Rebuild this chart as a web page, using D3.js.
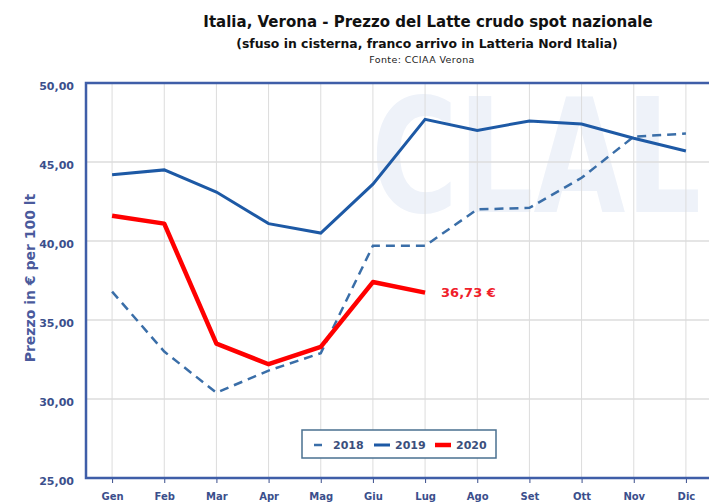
<!DOCTYPE html>
<html lang="it">
<head>
  <meta charset="UTF-8">
  <title>Prezzo del Latte crudo spot</title>
  <style>
    body { margin: 0; background: #fff; }
    text { font-family: "DejaVu Sans", Verdana, sans-serif; }
  </style>
</head>
<body>
  <svg id="svg" width="709" height="502"></svg>

  <script src="https://d3js.org/d3.v7.min.js"></script>
  <script>
    // data
    const months = ['Gen', 'Feb', 'Mar', 'Apr', 'Mag', 'Giu', 'Lug', 'Ago', 'Set', 'Ott', 'Nov', 'Dic']
    const prices2018 = [36.8, 33.0, 30.4, 31.8, 32.9, 39.7, 39.7, 42.0, 42.1, 44.0, 46.6, 46.8]
    const prices2019 = [44.2, 44.5, 43.1, 41.1, 40.5, 43.6, 47.7, 47.0, 47.6, 47.4, 46.5, 45.7]
    const prices2020 = [41.6, 41.1, 33.5, 32.2, 33.3, 37.4, 36.73]
    const yTicks = [25, 30, 35, 40, 45, 50]
    const lastLabel = '36,73 €'

    const margin = { top: 83, right: -3, bottom: 24, left: 86 }
    const width = 709 - margin.left - margin.right
    const height = 502 - margin.top - margin.bottom

    const svg = d3.select('#svg')
    const axisColor = '#3b4f8c'

    // titles
    svg.append('text').attr('x', 428).attr('y', 27).attr('text-anchor', 'middle')
      .attr('font-size', 15).attr('font-weight', 'bold').attr('fill', '#111')
      .text('Italia, Verona - Prezzo del Latte crudo spot nazionale')
    svg.append('text').attr('x', 427).attr('y', 48).attr('text-anchor', 'middle')
      .attr('font-size', 12.4).attr('font-weight', 'bold').attr('fill', '#111')
      .text('(sfuso in cisterna, franco arrivo in Latteria Nord Italia)')
    svg.append('text').attr('x', 422).attr('y', 63).attr('text-anchor', 'middle')
      .attr('font-size', 9.5).attr('letter-spacing', 0.4).attr('fill', '#222')
      .text('Fonte: CCIAA Verona')

    const g = svg.append('g').attr('transform', `translate(${margin.left}, ${margin.top})`)

    // faint watermark
    g.append('g').attr('transform', 'translate(285, 129) scale(1, 1.35)')
      .append('text')
      .attr('font-size', 118).attr('font-weight', 'bold').attr('fill', '#eef2f9')
      .attr('textLength', 330).attr('lengthAdjust', 'spacingAndGlyphs')
      .text('CLAL')

    const x = d3.scalePoint().domain(months).range([0, width]).padding(0.5)
    const y = d3.scaleLinear().domain([25, 50]).range([height, 0])

    // grid
    g.append('g').selectAll('line').data(yTicks.slice(1, -1)).enter().append('line')
      .attr('x1', 0).attr('x2', width).attr('y1', d => y(d)).attr('y2', d => y(d))
      .attr('stroke', '#dcdcdc').attr('stroke-width', 1.5)
    g.append('g').selectAll('line').data(months).enter().append('line')
      .attr('x1', d => x(d)).attr('x2', d => x(d)).attr('y1', 0).attr('y2', height)
      .attr('stroke', '#dcdcdc').attr('stroke-width', 1)

    // y axis
    const leftAxis = d3.axisLeft(y).tickValues(yTicks).tickSize(0).tickPadding(12)
      .tickFormat(d => d3.format('.2f')(d).replace('.', ','))
    const ya = g.append('g').call(leftAxis)
    ya.select('.domain').remove()
    ya.selectAll('text').attr('font-size', 11).attr('font-weight', 'bold')
      .attr('fill', axisColor).attr('dy', '0.6em')

    // x axis
    const bottomAxis = d3.axisBottom(x).tickSize(5).tickPadding(10)
    const xa = g.append('g').attr('transform', `translate(0, ${height})`).call(bottomAxis)
    xa.select('.domain').remove()
    xa.selectAll('line').attr('stroke', axisColor)
    xa.selectAll('text').attr('font-size', 10).attr('font-weight', 'bold').attr('fill', axisColor)

    // plot border
    g.append('path')
      .attr('d', `M${width + 10},0 H0 V${height} H${width + 10}`)
      .attr('fill', 'none').attr('stroke', '#3f5ea8').attr('stroke-width', 2.5)

    // axis title
    svg.append('text')
      .attr('transform', `translate(35, 278) rotate(-90)`)
      .attr('text-anchor', 'middle')
      .attr('font-size', 14).attr('font-weight', 'bold').attr('fill', '#4a5a9c')
      .text('Prezzo in € per 100 lt')

    const line = d3.line().x((d, i) => x(months[i])).y(d => y(d))

    g.append('path').datum(prices2018).attr('d', line)
      .attr('fill', 'none').attr('stroke', '#3a6ea8').attr('stroke-width', 2.5)
      .attr('stroke-dasharray', '9,6')
    g.append('path').datum(prices2019).attr('d', line)
      .attr('fill', 'none').attr('stroke', '#1d59a5').attr('stroke-width', 3)
    g.append('path').datum(prices2020).attr('d', line)
      .attr('fill', 'none').attr('stroke', '#ff0000').attr('stroke-width', 4.5)
      .attr('stroke-linejoin', 'round')

    const lastI = prices2020.length - 1
    g.append('text')
      .attr('x', x(months[lastI]) + 16).attr('y', y(prices2020[lastI]) + 4)
      .attr('font-size', 13).attr('font-weight', 'bold').attr('fill', '#f0202a')
      .text(lastLabel)

    // legend
    const legend = svg.append('g').attr('transform', 'translate(302, 430)')
    legend.append('rect').attr('width', 194).attr('height', 28)
      .attr('fill', '#fff').attr('stroke', '#4a7090').attr('stroke-width', 1.5)
    const items = [
      { name: '2018', color: '#3a6ea8', w: 2.5, len: 8, x: 12 },
      { name: '2019', color: '#1d59a5', w: 3, len: 16, x: 72 },
      { name: '2020', color: '#ff0000', w: 4.5, len: 16, x: 133 }
    ]
    items.forEach(it => {
      legend.append('line').attr('x1', it.x).attr('x2', it.x + it.len)
        .attr('y1', 15).attr('y2', 15)
        .attr('stroke', it.color).attr('stroke-width', it.w)
      legend.append('text').attr('x', it.x + (it.len === 8 ? 19 : 21)).attr('y', 19)
        .attr('font-size', 11).attr('font-weight', 'bold').attr('fill', '#3b4f7c')
        .text(it.name)
    })
  </script>
</body>
</html>
